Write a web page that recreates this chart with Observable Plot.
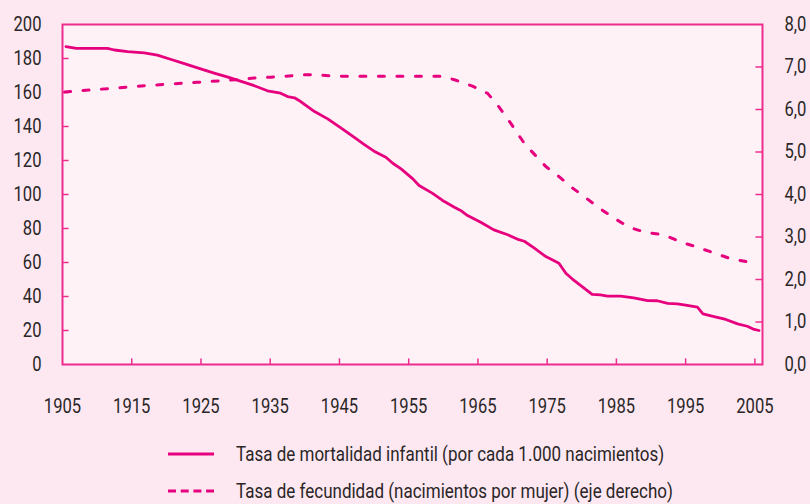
<!DOCTYPE html>
<html>
<head>
<meta charset="utf-8">
<script src="https://cdn.jsdelivr.net/npm/d3@7"></script>
<script src="https://cdn.jsdelivr.net/npm/@observablehq/plot@0.6"></script>
<style>
  html, body { margin: 0; padding: 0; background: #fde8f1; }
  body { width: 810px; height: 504px; overflow: hidden; font-family: Roboto, "Liberation Sans", sans-serif; color: #2a2627; position: relative; }
  #chart svg { display: block; }
  .legend { position: absolute; left: 168px; top: 435px; font-size: 20px; }
  .row { display: flex; align-items: center; height: 37px; }
  .swatch { width: 46px; height: 4px; margin-right: 22px; flex: none; display: block; }
  .row span { display: inline-block; transform: scaleX(0.85); transform-origin: left center; white-space: nowrap; }
</style>
</head>
<body>
<div id="chart"></div>
<div class="legend">
  <div class="row"><svg class="swatch" viewBox="0 0 46 4"><line x1="0" x2="46" y1="2" y2="2" stroke="#e6007e" stroke-width="3"/></svg><span>Tasa de mortalidad infantil (por cada 1.000 nacimientos)</span></div>
  <div class="row"><svg class="swatch" viewBox="0 0 46 4"><line x1="0" x2="46" y1="2" y2="2" stroke="#e6007e" stroke-width="3" stroke-dasharray="8,4.7"/></svg><span>Tasa de fecundidad (nacimientos por mujer) (eje derecho)</span></div>
</div>
<script>
// Infant mortality (per 1,000 births), left axis
const mortYears = [1905.5,1907,1911.5,1912.5,1914.4,1916.8,1918.7,1920.7,1922.6,1924.5,1926.9,1928.9,1930.8,1932.7,1934.6,1936.5,1937.5,1938.5,1939.4,1941.4,1943.3,1945.2,1947.1,1948.6,1950,1951.7,1952.7,1953.9,1955.6,1956.5,1958.4,1959.9,1961.6,1962.5,1963.5,1965.4,1967.3,1969.3,1970.9,1971.7,1973.1,1974.8,1976.7,1977.7,1978.6,1981.5,1982.7,1983.7,1985.6,1987.5,1989.5,1990.9,1992.4,1993.8,1995,1996.7,1997.5,1999.1,2000.8,2002.5,2003.9,2004.9,2005.6];
const mortValues = [187,186,186,185,184,183.3,182,179.4,177,174.5,171.4,169,166.5,164,161,159.6,157.6,156.9,154.7,148.8,144.5,139.2,133.7,129.4,125.5,121.9,118.4,115.1,109.2,105.3,100.8,96.5,92.5,90.6,87.6,83.7,79.2,76.3,73.4,72.5,68.6,63.5,59.6,53.7,50.4,41.2,41,40.2,40.2,39.2,37.6,37.5,35.9,35.7,34.9,33.7,29.8,28.2,26.5,23.9,22.5,20.6,20];

// Fertility rate (births per woman), right axis
const fertYears = [1905.3,1916.8,1924.5,1930,1932.7,1935.1,1940.4,1945.7,1959.7,1961.6,1964.2,1966.4,1967.9,1969.3,1970.5,1971.8,1973.3,1974.8,1976.8,1978.6,1980.6,1982.7,1984.8,1986.8,1989.2,1991.9,1994.3,1996.7,1999,2001.5,2004.1];
const fertValues = [6.41,6.56,6.64,6.70,6.74,6.76,6.82,6.78,6.78,6.70,6.55,6.38,6.09,5.78,5.49,5.18,4.92,4.66,4.41,4.16,3.92,3.66,3.43,3.23,3.11,3.05,2.88,2.76,2.63,2.49,2.41];

const xTicks = [1905,1915,1925,1935,1945,1955,1965,1975,1985,1995,2005];
const leftTicks = [0,20,40,60,80,100,120,140,160,180,200];
const rightTicks = [0,1,2,3,4,5,6,7,8];

const ratio = 200 / 8; // right-axis value -> left-axis units
const mort = mortYears.map((x, i) => ({x, y: mortValues[i]}));
const fert = fertYears.map((x, i) => ({x, y: fertValues[i] * ratio}));

const pink = "#e6007e";
const framePink = "#ec2c8f";
const xDomain = [1905, 2006.1];
const yDomain = [0, 200];
const txtColor = "#2a2627";

const chart = Plot.plot({
  width: 810,
  height: 430,
  marginLeft: 62,
  marginRight: 48,
  marginTop: 24,
  marginBottom: 66,
  style: {background: "transparent", fontFamily: 'Roboto, "Liberation Sans", sans-serif', fontSize: "20px", color: txtColor},
  x: {domain: xDomain},
  y: {domain: yDomain},
  marks: [
    Plot.frame({fill: "#fef2f6", stroke: null}),
    // inward tick marks
    Plot.ruleY(leftTicks.slice(1, -1), {y: d => d, x1: xDomain[0], x2: xDomain[0] + 0.95, stroke: framePink, strokeWidth: 1.5}),
    Plot.ruleY(rightTicks.slice(1, -1), {y: d => d * ratio, x1: xDomain[1] - 0.95, x2: xDomain[1], stroke: framePink, strokeWidth: 1.5}),
    Plot.ruleX(xTicks.slice(1), {x: d => d, y1: 0, y2: 3.3, stroke: framePink, strokeWidth: 1.5}),
    Plot.axisY({anchor: "left", ticks: leftTicks, tickSize: 0, tickPadding: 21, tickFormat: d => String(d), fill: txtColor, label: null}),
    Plot.axisY({anchor: "right", ticks: rightTicks.map(d => d * ratio), tickSize: 0, tickPadding: 22, tickFormat: d => (d / ratio).toFixed(1).replace(".", ","), fill: txtColor, label: null}),
    Plot.axisX({anchor: "bottom", ticks: xTicks, tickSize: 0, tickPadding: 34, tickFormat: d => String(d), fill: txtColor, label: null}),
    Plot.line(fert, {x: "x", y: "y", stroke: pink, strokeWidth: 3, strokeDasharray: "6,12.5"}),
    Plot.line(mort, {x: "x", y: "y", stroke: pink, strokeWidth: 2.8}),
    Plot.frame({stroke: framePink, strokeWidth: 2})
  ]
});

// condense the tick labels horizontally (reference uses a condensed face)
chart.querySelectorAll("text").forEach(t => {
  const tr = t.getAttribute("transform");
  if (tr) {
    t.setAttribute("transform", tr + " scale(0.83,1)");
  } else {
    const x = +(t.getAttribute("x") || 0), y = +(t.getAttribute("y") || 0);
    t.removeAttribute("x"); t.removeAttribute("y");
    t.setAttribute("transform", `translate(${x},${y}) scale(0.83,1)`);
  }
});
document.getElementById("chart").appendChild(chart);
</script>
</body>
</html>
